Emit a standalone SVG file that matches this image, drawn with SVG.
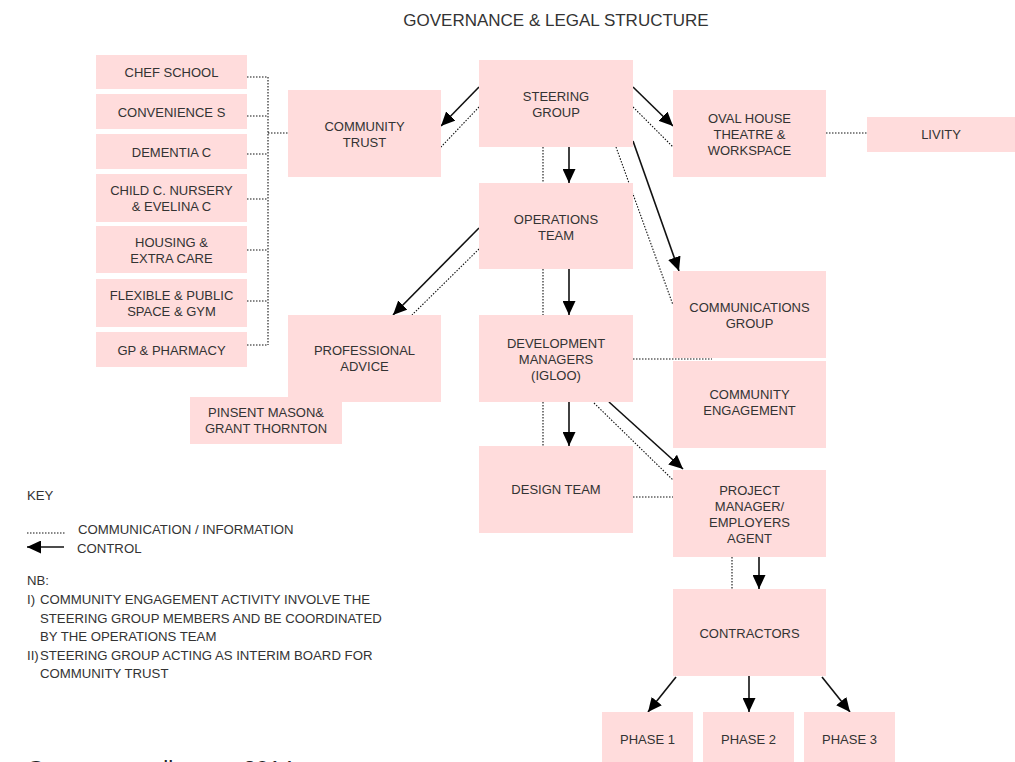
<svg xmlns="http://www.w3.org/2000/svg" width="1015" height="762" viewBox="0 0 1015 762">
<style>
.box{fill:#ffdcdc}
.t{font-family:"Liberation Sans",Arial,sans-serif;font-size:13px;fill:#333;text-anchor:middle}
.k{font-family:"Liberation Sans",Arial,sans-serif;font-size:13.2px;fill:#333}
.ctl{stroke:#111;stroke-width:1.6;fill:none;marker-end:url(#ah)}
.com{stroke:#111;stroke-width:1.1;fill:none;stroke-dasharray:1.5 1.5}
</style>
<defs>
<marker id="ah" markerUnits="userSpaceOnUse" markerWidth="15" markerHeight="13" refX="14" refY="6.5" orient="auto">
<path d="M0,0 L14,6.5 L0,13 z" fill="#000"/>
</marker>
</defs>
<rect width="1015" height="762" fill="#fff"/>
<text x="556" y="26" style="font-family:'Liberation Sans',Arial,sans-serif;font-size:17px;fill:#333;text-anchor:middle">GOVERNANCE &amp; LEGAL STRUCTURE</text>

<g id="connectors">
<!-- bracket to community trust -->
<path class="com" d="M247,77 H268 M247,116 H268 M247,154 H268 M247,199 H268 M247,250 H268 M247,301 H268 M247,345 H268 M268,77 V345 M268,133 H288"/>
<!-- steering -> community trust -->
<line class="ctl" x1="479" y1="87" x2="441" y2="126"/>
<line class="com" x1="479" y1="107" x2="441" y2="147"/>
<!-- steering -> oval house -->
<line class="ctl" x1="633" y1="87" x2="673" y2="126"/>
<line class="com" x1="633" y1="107" x2="673" y2="147"/>
<line class="com" x1="826" y1="133" x2="867" y2="133"/>
<!-- steering -> operations -->
<line class="ctl" x1="569" y1="147" x2="569" y2="183"/>
<line class="com" x1="543" y1="147" x2="543" y2="183"/>
<!-- steering -> communications -->
<line class="ctl" x1="633" y1="141" x2="679" y2="271"/>
<line class="com" x1="616" y1="147" x2="673" y2="305"/>
<!-- operations -> professional advice -->
<line class="ctl" x1="479" y1="228" x2="393" y2="315"/>
<line class="com" x1="479" y1="249" x2="412" y2="315"/>
<!-- operations -> development managers -->
<line class="ctl" x1="569" y1="269" x2="569" y2="315"/>
<line class="com" x1="543" y1="269" x2="543" y2="315"/>
<!-- development managers -> design team -->
<line class="ctl" x1="569" y1="402" x2="569" y2="446"/>
<line class="com" x1="543" y1="402" x2="543" y2="446"/>
<!-- development managers -> project manager -->
<line class="ctl" x1="609" y1="402" x2="683" y2="469"/>
<line class="com" x1="594" y1="403" x2="673" y2="480"/>
<!-- dev managers - communications -->
<line class="com" x1="633" y1="359" x2="712" y2="359"/>
<!-- design team - project manager -->
<line class="com" x1="633" y1="497" x2="673" y2="497"/>
<!-- project manager -> contractors -->
<line class="ctl" x1="759" y1="557" x2="759" y2="589"/>
<line class="com" x1="732" y1="557" x2="732" y2="589"/>
<!-- contractors -> phases -->
<line class="ctl" x1="676" y1="677" x2="648" y2="712"/>
<line class="ctl" x1="749" y1="676" x2="749" y2="712"/>
<line class="ctl" x1="822" y1="677" x2="850" y2="712"/>
</g>

<g id="chef-school"><rect class="box" x="96" y="55" width="151" height="34"/><text class="t" x="171.5" y="77">CHEF SCHOOL</text></g>
<g id="convenience"><rect class="box" x="96" y="94" width="151" height="35"/><text class="t" x="171.5" y="116.5">CONVENIENCE S</text></g>
<g id="dementia"><rect class="box" x="96" y="134" width="151" height="35"/><text class="t" x="171.5" y="156.5">DEMENTIA C</text></g>
<g id="child-nursery"><rect class="box" x="96" y="174" width="151" height="48"/><text class="t" x="171.5" y="195">CHILD C. NURSERY</text><text class="t" x="171.5" y="211">&amp; EVELINA C</text></g>
<g id="housing"><rect class="box" x="96" y="226" width="151" height="47"/><text class="t" x="171.5" y="246.5">HOUSING &amp;</text><text class="t" x="171.5" y="262.5">EXTRA CARE</text></g>
<g id="flexible"><rect class="box" x="96" y="279" width="151" height="48"/><text class="t" x="171.5" y="299.5">FLEXIBLE &amp; PUBLIC</text><text class="t" x="171.5" y="315.5">SPACE &amp; GYM</text></g>
<g id="gp-pharmacy"><rect class="box" x="96" y="332" width="151" height="35"/><text class="t" x="171.5" y="354.5">GP &amp; PHARMACY</text></g>

<g id="community-trust"><rect class="box" x="288" y="90" width="153" height="87"/><text class="t" x="364.5" y="131">COMMUNITY</text><text class="t" x="364.5" y="147">TRUST</text></g>
<g id="steering-group"><rect class="box" x="479" y="60" width="154" height="87"/><text class="t" x="556" y="101">STEERING</text><text class="t" x="556" y="117">GROUP</text></g>
<g id="oval-house"><rect class="box" x="673" y="90" width="153" height="87"/><text class="t" x="749.5" y="122.5">OVAL HOUSE</text><text class="t" x="749.5" y="138.5">THEATRE &amp;</text><text class="t" x="749.5" y="154.5">WORKSPACE</text></g>
<g id="livity"><rect class="box" x="867" y="117" width="148" height="35"/><text class="t" x="941" y="139">LIVITY</text></g>
<g id="operations-team"><rect class="box" x="479" y="183" width="154" height="86"/><text class="t" x="556" y="224">OPERATIONS</text><text class="t" x="556" y="240">TEAM</text></g>
<g id="communications-group"><rect class="box" x="673" y="271" width="153" height="87"/><text class="t" x="749.5" y="312">COMMUNICATIONS</text><text class="t" x="749.5" y="328">GROUP</text></g>
<g id="professional-advice"><rect class="box" x="288" y="315" width="153" height="87"/><text class="t" x="364.5" y="355">PROFESSIONAL</text><text class="t" x="364.5" y="371">ADVICE</text></g>
<g id="pinsent"><rect class="box" x="190" y="397" width="152" height="47"/><text class="t" x="266" y="417">PINSENT MASON&amp;</text><text class="t" x="266" y="433">GRANT THORNTON</text></g>
<g id="development-managers"><rect class="box" x="479" y="315" width="154" height="87"/><text class="t" x="556" y="348">DEVELOPMENT</text><text class="t" x="556" y="364">MANAGERS</text><text class="t" x="556" y="380">(IGLOO)</text></g>
<g id="community-engagement"><rect class="box" x="673" y="361" width="153" height="87"/><text class="t" x="749.5" y="398.5">COMMUNITY</text><text class="t" x="749.5" y="414.5">ENGAGEMENT</text></g>
<g id="design-team"><rect class="box" x="479" y="446" width="154" height="87"/><text class="t" x="556" y="494">DESIGN TEAM</text></g>
<g id="project-manager"><rect class="box" x="673" y="470" width="153" height="87"/><text class="t" x="749.5" y="495">PROJECT</text><text class="t" x="749.5" y="511">MANAGER/</text><text class="t" x="749.5" y="527">EMPLOYERS</text><text class="t" x="749.5" y="543">AGENT</text></g>
<g id="contractors"><rect class="box" x="673" y="589" width="153" height="87"/><text class="t" x="749.5" y="638">CONTRACTORS</text></g>
<g id="phase-1"><rect class="box" x="602" y="712" width="91" height="50"/><text class="t" x="647.5" y="744">PHASE 1</text></g>
<g id="phase-2"><rect class="box" x="703" y="712" width="91" height="50"/><text class="t" x="748.5" y="744">PHASE 2</text></g>
<g id="phase-3"><rect class="box" x="804" y="712" width="91" height="50"/><text class="t" x="849.5" y="744">PHASE 3</text></g>

<g id="key">
<text class="k" x="27" y="500">KEY</text>
<line class="com" x1="27" y1="533" x2="66" y2="533"/>
<text class="k" x="78" y="534">COMMUNICATION / INFORMATION</text>
<line class="ctl" x1="64" y1="547" x2="27" y2="547"/>
<text class="k" x="77" y="553">CONTROL</text>
<text class="k" x="27" y="585">NB:</text>
<text class="k" x="27" y="604">I)</text>
<text class="k" x="40" y="604">COMMUNITY ENGAGEMENT ACTIVITY INVOLVE THE</text>
<text class="k" x="40" y="623">STEERING GROUP MEMBERS AND BE COORDINATED</text>
<text class="k" x="40" y="641">BY THE OPERATIONS TEAM</text>
<text class="k" x="27" y="660">II)</text>
<text class="k" x="40" y="660">STEERING GROUP ACTING AS INTERIM BOARD FOR</text>
<text class="k" x="40" y="678">COMMUNITY TRUST</text>
</g>
<text x="27" y="776" style="font-family:'Liberation Sans',Arial,sans-serif;font-size:22.5px;fill:#222">Governance diagram 2014</text>
</svg>
